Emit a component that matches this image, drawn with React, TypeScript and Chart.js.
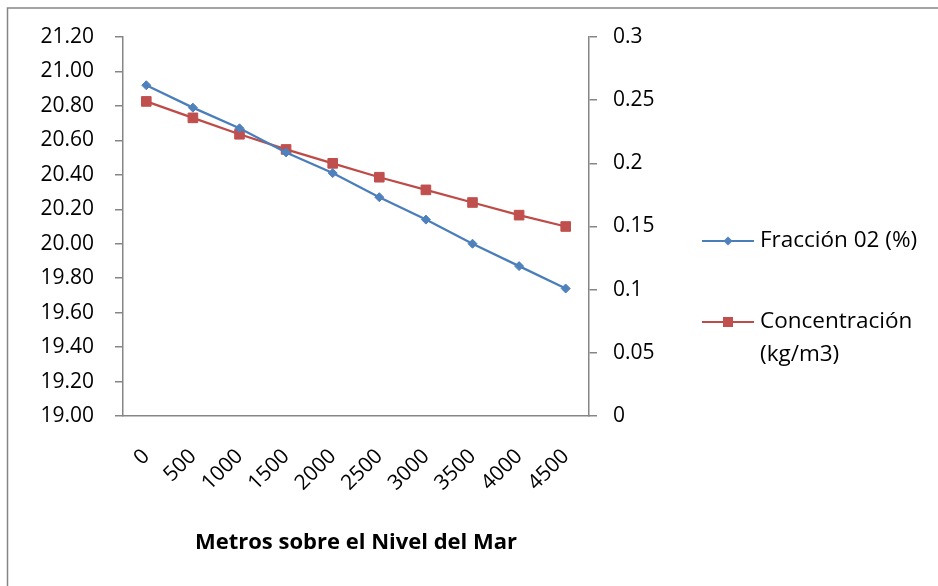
import { useEffect, useRef } from 'react';
import { Chart, registerables } from 'chart.js';

Chart.register(...registerables);

// Altitude categories (metres above sea level)
const altitudes = ['0', '500', '1000', '1500', '2000', '2500', '3000', '3500', '4000', '4500'];
// Oxygen fraction in air (%), left axis
const oxygenFraction = [20.92, 20.79, 20.67, 20.53, 20.41, 20.27, 20.14, 20.0, 19.87, 19.74];
// Oxygen concentration (kg/m3), right axis
const oxygenConcentration = [0.249, 0.236, 0.223, 0.211, 0.2, 0.189, 0.179, 0.169, 0.159, 0.15];

const fractionLabel = ['Fracción 02 (%)'];
const concentrationLabel = ['Concentración', '(kg/m3)'];
const xTitle = 'Metros sobre el Nivel del Mar';

const FONT = '"Open Sans", "Noto Sans", sans-serif';
const AXIS_GREY = '#868686';
const BLUE_LINE = '#4a7ebb';
const BLUE_MARK = '#4f81bd';
const RED_LINE = '#be4b48';
const RED_MARK = '#c0504d';

// Frame lines around the chart and a legend with multi-line entries
const framePlugin = {
  id: 'frameAndLegend',
  afterDraw(chart: any) {
    const { ctx, chartArea } = chart;
    ctx.save();
    ctx.strokeStyle = AXIS_GREY;
    ctx.lineWidth = 1.5;
    ctx.beginPath();
    ctx.moveTo(7.5, chart.height);
    ctx.lineTo(7.5, 8);
    ctx.lineTo(chart.width, 8);
    ctx.stroke();

    const x0 = chartArea.right + 113;
    const entries = [
      { lines: fractionLabel, ds: chart.data.datasets[0], y: chartArea.top + 204 },
      { lines: concentrationLabel, ds: chart.data.datasets[1], y: chartArea.top + 285 },
    ];
    ctx.font = `22.5px ${FONT}`;
    ctx.textBaseline = 'middle';
    ctx.textAlign = 'left';
    for (const e of entries) {
      ctx.strokeStyle = e.ds.borderColor;
      ctx.lineWidth = 2;
      ctx.beginPath();
      ctx.moveTo(x0, e.y);
      ctx.lineTo(x0 + 52, e.y);
      ctx.stroke();
      ctx.fillStyle = e.ds.pointBackgroundColor;
      const cx = x0 + 26;
      if (e.ds.pointStyle === 'rectRot') {
        const r = 4.5;
        ctx.beginPath();
        ctx.moveTo(cx, e.y - r);
        ctx.lineTo(cx + r, e.y);
        ctx.lineTo(cx, e.y + r);
        ctx.lineTo(cx - r, e.y);
        ctx.closePath();
        ctx.fill();
      } else {
        ctx.fillRect(cx - 5, e.y - 5, 10, 10);
      }
      ctx.fillStyle = '#000';
      e.lines.forEach((t: string, i: number) => {
        ctx.fillText(t, x0 + 58, e.y + i * 33);
      });
    }
    ctx.restore();
  },
};

export default function App() {
  const ref = useRef<HTMLCanvasElement>(null);

  useEffect(() => {
    document.body.style.margin = '0';
    const canvas = ref.current;
    if (!canvas) return;
    Chart.defaults.font.family = FONT;
    const chart = new Chart(canvas, {
      type: 'line',
      data: {
        labels: altitudes,
        datasets: [
          {
            label: fractionLabel.join(' '),
            data: oxygenFraction,
            yAxisID: 'yLeft',
            borderColor: BLUE_LINE,
            backgroundColor: BLUE_MARK,
            pointBackgroundColor: BLUE_MARK,
            pointBorderColor: BLUE_MARK,
            pointStyle: 'rectRot',
            pointRadius: 4.5,
            pointBorderWidth: 1,
            borderWidth: 2.25,
            tension: 0,
          },
          {
            label: concentrationLabel.join(' '),
            data: oxygenConcentration,
            yAxisID: 'yRight',
            borderColor: RED_LINE,
            backgroundColor: RED_MARK,
            pointBackgroundColor: RED_MARK,
            pointBorderColor: RED_MARK,
            pointStyle: 'rect',
            pointRadius: 6.8,
            pointBorderWidth: 1,
            borderWidth: 2.25,
            tension: 0,
          },
        ],
      },
      options: {
        responsive: false,
        animation: false,
        layout: { padding: { left: 0, right: 249, top: 37, bottom: 0 } },
        plugins: {
          legend: { display: false },
          tooltip: { enabled: false },
        },
        scales: {
          x: {
            offset: true,
            grid: { display: false, drawTicks: false },
            border: { display: true, color: AXIS_GREY, width: 1.5 },
            ticks: {
              color: '#000',
              font: { size: 21, family: FONT },
              minRotation: 45,
              maxRotation: 45,
              padding: 28,
              autoSkip: false,
            },
            title: {
              display: true,
              text: xTitle,
              color: '#000',
              font: { size: 22, weight: 'bold', family: FONT },
              padding: { top: 0, bottom: 30 },
            },
            afterFit(scale: any) {
              scale.height = 170;
            },
          },
          yLeft: {
            position: 'left',
            min: 19,
            max: 21.2,
            grid: { display: true, drawOnChartArea: false, tickLength: 8, color: AXIS_GREY, lineWidth: 1.5 },
            border: { display: true, color: AXIS_GREY, width: 1.5 },
            ticks: {
              stepSize: 0.2,
              color: '#000',
              font: { size: 21, family: FONT },
              padding: 21,
              callback: (v: any) => Number(v).toFixed(2),
            },
            afterFit(scale: any) {
              scale.width = 123;
            },
          },
          yRight: {
            position: 'right',
            min: 0,
            max: 0.3,
            grid: { display: true, drawOnChartArea: false, tickLength: 8, color: AXIS_GREY, lineWidth: 1.5 },
            border: { display: true, color: AXIS_GREY, width: 1.5 },
            ticks: {
              stepSize: 0.05,
              color: '#000',
              font: { size: 21, family: FONT },
              padding: 16,
              callback: (v: any) => String(Number(Number(v).toFixed(2))),
            },
            afterFit(scale: any) {
              scale.width = 100;
            },
          },
        },
      },
      plugins: [framePlugin],
    });
    return () => chart.destroy();
  }, []);

  return (
    <div style={{ position: 'fixed', left: 0, top: 0, width: 938, height: 586, background: '#fff' }}>
      <canvas ref={ref} width={938} height={586} />
    </div>
  );
}
